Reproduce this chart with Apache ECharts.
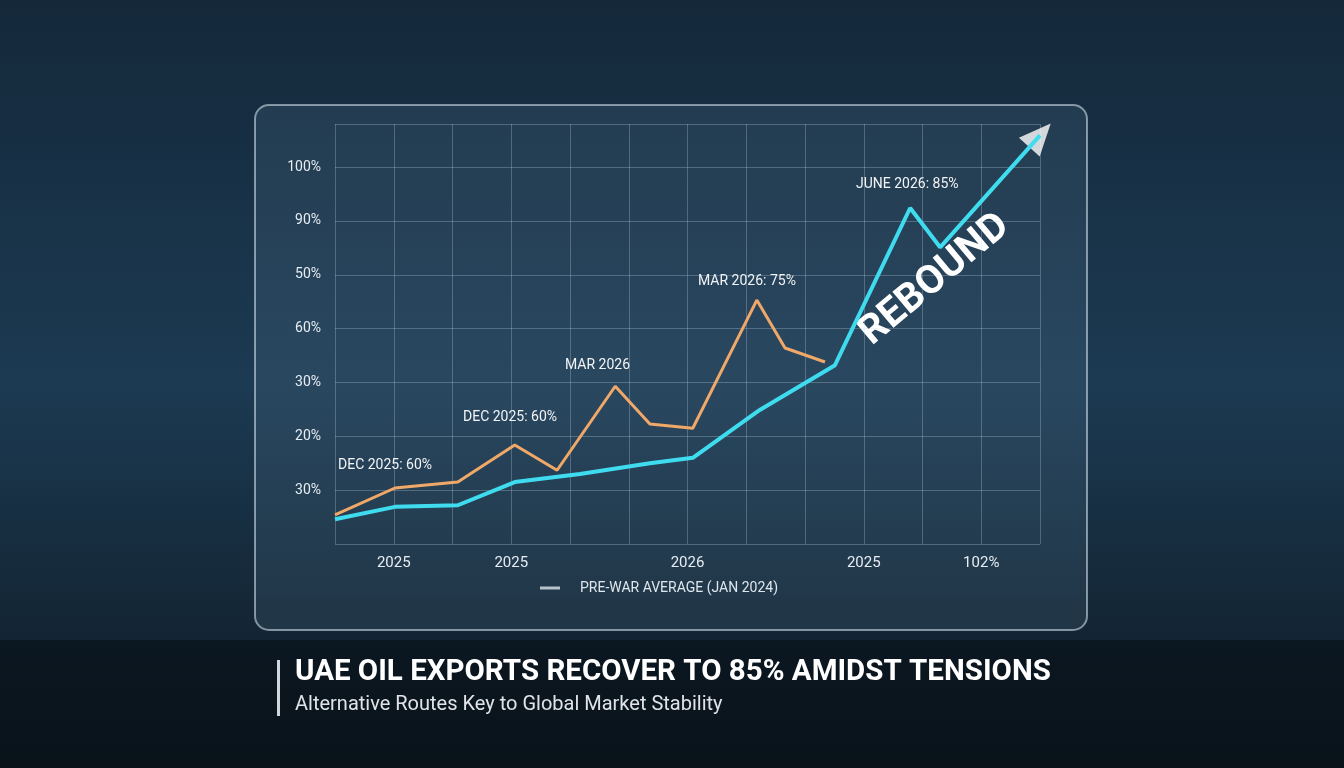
<!DOCTYPE html>
<html><head><meta charset="utf-8">
<script src="https://cdn.jsdelivr.net/npm/echarts@6/dist/echarts.min.js"></script>
<style>html,body{margin:0;padding:0;background:#0d1a26}#c{width:1344px;height:768px}</style>
</head><body><div id="c"></div>
<script>
const yTickLabels = ['', '30%', '20%', '30%', '60%', '50%', '90%', '100%'];
const xTickLabels = {1:'2025', 3:'2025', 6:'2026', 9:'2025', 11:'102%'};
const orangeX = [0, 1.02, 2.09, 3.06, 3.78, 4.77, 5.36, 6.09, 7.18, 7.66, 8.34];
const orangeY = [0.54, 1.04, 1.15, 1.84, 1.37, 2.93, 2.23, 2.15, 4.53, 3.64, 3.38];
const cyanX = [0, 1.02, 2.09, 3.06, 4.17, 5.36, 6.09, 7.23, 8.51, 9.79, 10.3, 12];
const cyanY = [0.46, 0.69, 0.72, 1.15, 1.30, 1.50, 1.60, 2.49, 3.32, 6.24, 5.51, 7.59];
const labels = [
  {t:'DEC 2025: 60%', x:388, y:466}, {t:'DEC 2025: 60%', x:513, y:418},
  {t:'MAR 2026', x:615, y:366}, {t:'MAR 2026: 75%', x:748, y:282},
  {t:'JUNE 2026: 85%', x:906, y:185}
];
const chart = echarts.init(document.getElementById('c'));
const pair = (xs, ys) => xs.map((x, i) => [x, ys[i]]);
chart.setOption({
  backgroundColor: {type:'linear',x:0,y:0,x2:0,y2:1,colorStops:[{offset:0,color:'#14283a'},{offset:0.5,color:'#1c3a52'},{offset:1,color:'#0e1a24'}]},
  grid: {left:335, right:304, top:124, bottom:224},
  xAxis: {type:'value', min:0, max:12, interval:1,
    axisLine:{show:false}, axisTick:{show:false},
    splitLine:{lineStyle:{color:'rgba(200,220,235,0.28)'}},
    axisLabel:{color:'#e6edf3', fontSize:15, fontFamily:'Roboto', margin:12,
      formatter:v => xTickLabels[v] || ''}},
  yAxis: {type:'value', min:0, max:7.8, interval:1,
    axisLine:{show:false}, axisTick:{show:false},
    splitLine:{lineStyle:{color:'rgba(200,220,235,0.28)'}},
    axisLabel:{color:'#e6edf3', fontSize:14, fontFamily:'Roboto', margin:14,
      formatter:v => yTickLabels[v] || ''}},
  graphic: [
    {type:'rect', z:-1, shape:{x:0,y:640,width:1344,height:128}, style:{fill:'rgba(5,12,18,0.55)'}},
    {type:'rect', z:-1, shape:{x:255,y:105,width:832,height:525,r:14}, style:{fill:'rgba(160,200,225,0.10)', stroke:'rgba(220,235,245,0.55)', lineWidth:2}},
    {type:'line', shape:{x1:540,y1:588,x2:560,y2:588}, style:{stroke:'#b8c2ca', lineWidth:3}},
    {type:'text', left:580, top:581, style:{text:'PRE-WAR AVERAGE (JAN 2024)', fill:'#dfe6ec', font:'14px Roboto'}},
    ...labels.map(l => ({type:'text', left:l.x - 50, top:l.y - 8, style:{text:l.t, fill:'#f2f4f6', font:'14px Roboto'}})),
    {type:'text', x:935, y:280, rotation:Math.PI*40/180, style:{text:'REBOUND', fill:'#ffffff', font:'bold 40px Roboto', align:'center', verticalAlign:'middle'}},
    {type:'rect', shape:{x:277,y:660,width:3,height:56}, style:{fill:'#d0d6db'}},
    {type:'text', left:295, top:658, style:{text:'UAE OIL EXPORTS RECOVER TO 85% AMIDST TENSIONS', fill:'#ffffff', font:'bold 29.5px Roboto'}},
    {type:'text', left:295, top:695, style:{text:'Alternative Routes Key to Global Market Stability', fill:'#e0e4e8', font:'20px Roboto'}}
  ],
  series: [
    {type:'line', data:pair(orangeX, orangeY), symbol:'none', lineStyle:{color:'#f0a868', width:3}},
    {type:'line', data:pair(cyanX, cyanY), symbol:'none', lineStyle:{color:'#3fdcf0', width:4}},
    {type:'scatter', data:[[cyanX[cyanX.length-1], cyanY[cyanY.length-1]]], symbol:'triangle', symbolSize:[28,32], symbolRotate:-42, itemStyle:{color:'#ffffff'}}
  ]
});
</script></body></html>
